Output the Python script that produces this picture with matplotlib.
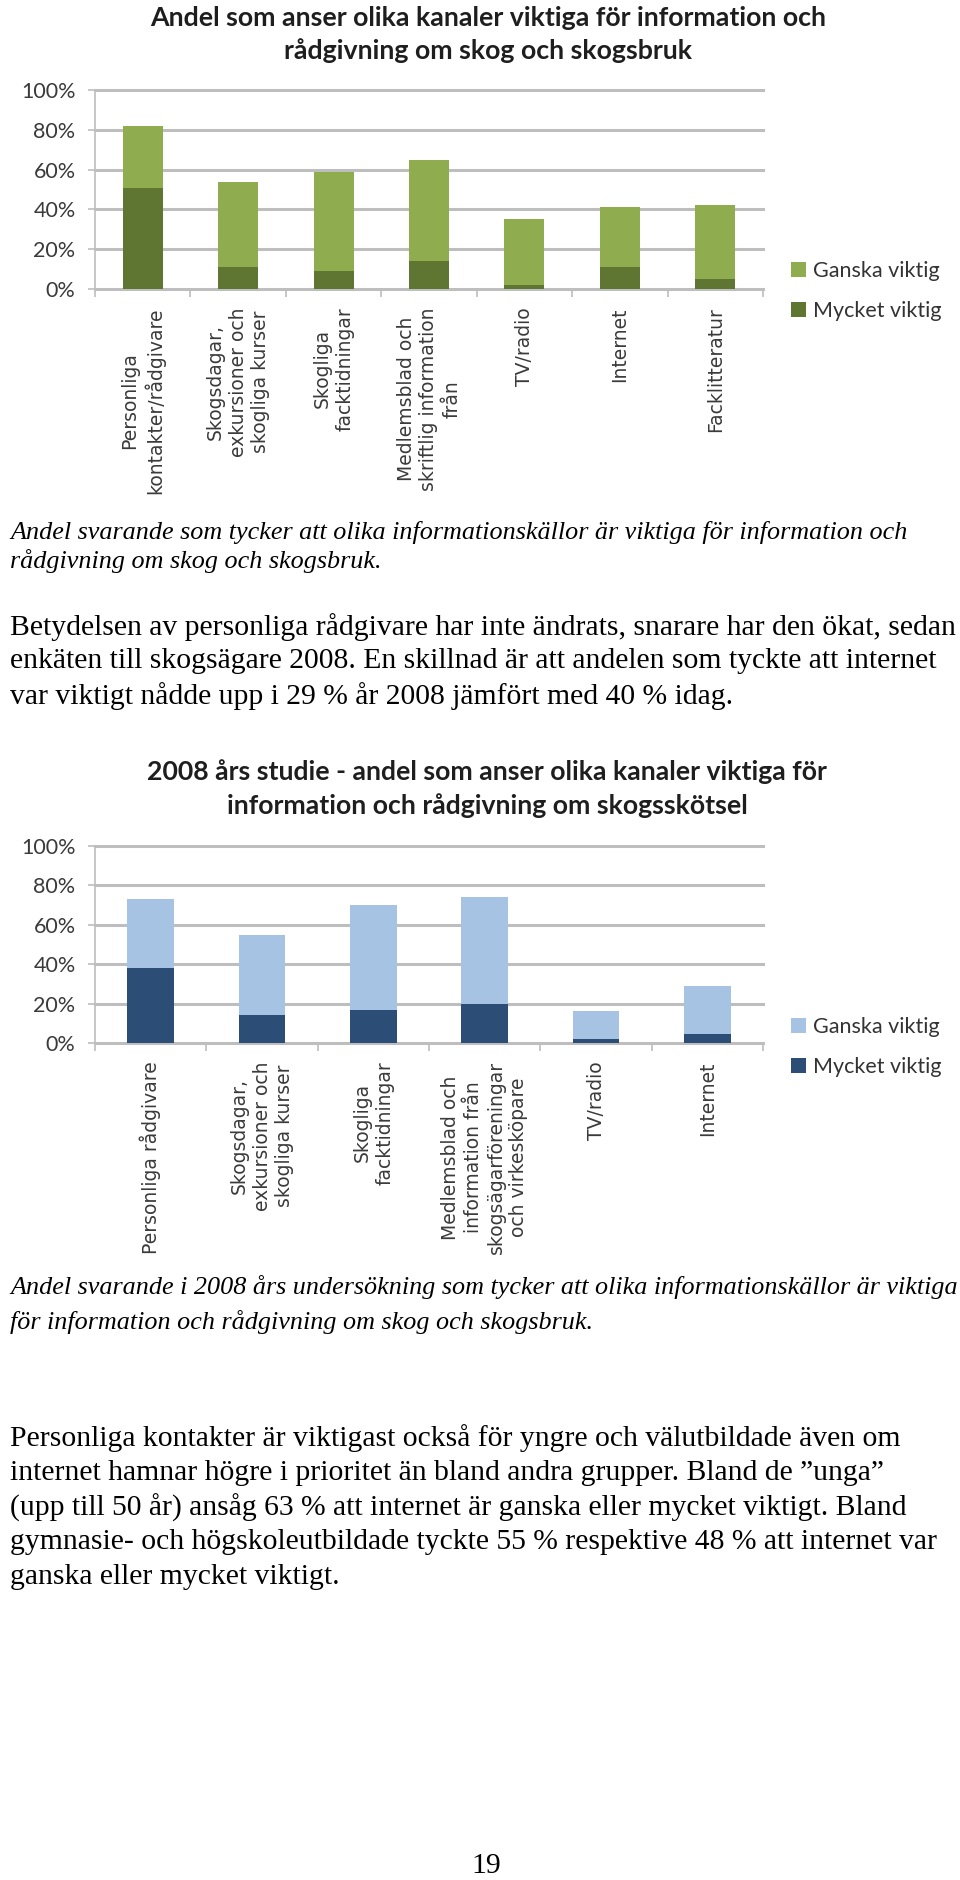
import matplotlib
matplotlib.use("Agg")
import matplotlib.pyplot as plt
import numpy as np

W, H = 960, 1880

# ---------------- data ----------------
series = ["Ganska viktig", "Mycket viktig"]
yticks = [0, 20, 40, 60, 80, 100]

cats_now = ["Personliga\nkontakter/rådgivare",
            "Skogsdagar,\nexkursioner och\nskogliga kurser",
            "Skogliga\nfacktidningar",
            "Medlemsblad och\nskriftlig information\nfrån",
            "TV/radio", "Internet", "Facklitteratur"]
mycket_now = [51, 11, 9, 14, 2, 11, 5]
ganska_now = [31, 43, 50, 51, 33, 30, 37]

cats_2008 = ["Personliga rådgivare",
             "Skogsdagar,\nexkursioner och\nskogliga kurser",
             "Skogliga\nfacktidningar",
             "Medlemsblad och\ninformation från\nskogsägarföreningar\noch virkesköpare",
             "TV/radio", "Internet"]
mycket_2008 = [38, 14, 17, 20, 2, 4.5]
ganska_2008 = [35, 41, 53, 54, 14, 24.5]

title_now = ["Andel som anser olika kanaler viktiga för information och",
             "rådgivning om skog och skogsbruk"]
title_2008 = ["2008 års studie - andel som anser olika kanaler viktiga för",
              "information och rådgivning om skogsskötsel"]

caption1 = ["Andel svarande som tycker att olika informationskällor är viktiga för information och",
            "rådgivning om skog och skogsbruk."]
para1 = ["Betydelsen av personliga rådgivare har inte ändrats, snarare har den ökat, sedan",
         "enkäten till skogsägare 2008. En skillnad är att andelen som tyckte att internet",
         "var viktigt nådde upp i 29 % år 2008 jämfört med 40 % idag."]
caption2 = ["Andel svarande i 2008 års undersökning som tycker att olika informationskällor är viktiga",
            "för information och rådgivning om skog och skogsbruk."]
para2 = ["Personliga kontakter är viktigast också för yngre och välutbildade även om",
         "internet hamnar högre i prioritet än bland andra grupper. Bland de ”unga”",
         "(upp till 50 år) ansåg 63 % att internet är ganska eller mycket viktigt. Bland",
         "gymnasie- och högskoleutbildade tyckte 55 % respektive 48 % att internet var",
         "ganska eller mycket viktigt."]
page_no = "19"

# ---------------- styling ----------------
GREEN_L, GREEN_D = "#8FAD4E", "#5E7631"
BLUE_L, BLUE_D = "#A7C3E3", "#2C4D75"
GRID = "#BEBEBE"
LABEL = "#3A3A3A"

fig = plt.figure(figsize=(W / 100, H / 100), dpi=100)
fig.patch.set_facecolor("white")
renderer = fig.canvas.get_renderer()


def fx(x):
    return x / W


def fy(y):
    return 1 - y / H


def fit_size(s, target, **kw):
    t = fig.text(0, 0, s, fontsize=10, **kw)
    w = t.get_window_extent(renderer).width
    t.remove()
    return 10 * target / w


def chart(rect, cats, mycket, ganska, c_dark, c_light, legend_y):
    l, t, r, b = rect
    ax = fig.add_axes([fx(l), fy(b), (r - l) / W, (b - t) / H])
    x = np.arange(len(cats))
    hd = ax.bar(x, mycket, width=0.42, color=c_dark, zorder=3)
    hl = ax.bar(x, ganska, bottom=mycket, width=0.42, color=c_light, zorder=3)
    ax.set_xlim(-0.5, len(cats) - 0.5)
    ax.set_ylim(0, 100)
    ax.set_yticks(yticks)
    ax.set_yticklabels([f"{v}%" for v in yticks], family="Lato")
    ax.yaxis.grid(True, color=GRID, lw=2.2)
    for gl in ax.get_ygridlines():
        gl.set_clip_on(False)
    ax.set_axisbelow(True)
    for s in ["top", "right"]:
        ax.spines[s].set_visible(False)
    for s in ["left", "bottom"]:
        ax.spines[s].set_color(GRID)
        ax.spines[s].set_linewidth(1.2)
    ax.set_xticks(x)
    ax.set_xticklabels(cats, rotation=90, ha="center", va="top",
                       multialignment="center", fontsize=13.5,
                       family="DejaVu Sans", color=LABEL, linespacing=1.25)
    ax.set_xticks(np.arange(len(cats) + 1) - 0.5, minor=True)
    ax.tick_params(axis="x", which="major", length=0, pad=13)
    ax.tick_params(axis="x", which="minor", length=6, color=GRID, width=1.2)
    ax.tick_params(axis="y", length=5, color=GRID, width=1.2, pad=9,
                   labelsize=15.5, labelcolor=LABEL)
    ax.legend([hl, hd], series, loc="center left",
              bbox_to_anchor=(fx(791), fy(legend_y)),
              bbox_transform=fig.transFigure, frameon=False,
              borderpad=0, borderaxespad=0, handlelength=0.7,
              handleheight=0.7, handletextpad=0.3, labelspacing=0.95,
              prop={"family": "Lato", "size": 15.5}, labelcolor="#333333")
    return ax


def title(lines, ys, cx, target):
    size = fit_size(lines[0], target, family="Lato", fontweight="bold")
    for s, y in zip(lines, ys):
        fig.text(fx(cx), fy(y), s, ha="center", va="center", fontsize=size,
                 family="Lato", fontweight="bold", color="#1E1E1E")


def block(lines, ys, size, style="normal"):
    for s, y in zip(lines, ys):
        fig.text(fx(10), fy(y), s, ha="left", va="center", fontsize=size,
                 family="Liberation Serif", style=style, color="black")


# ---------------- chart 1 ----------------
title(title_now, [18, 51], 488, 680)
chart((95, 90, 763, 289), cats_now, mycket_now, ganska_now,
      GREEN_D, GREEN_L, 291)

# ---------------- texts ----------------
cap_size = fit_size(caption1[0], 900, family="Liberation Serif", style="italic")
par_size = fit_size(para1[0], 948, family="Liberation Serif")
block(caption1, [533, 561], cap_size, "italic")
block(para1, [627, 661, 696], par_size)

# ---------------- chart 2 ----------------
title(title_2008, [772, 806], 487, 681)
chart((95, 846, 763, 1043), cats_2008, mycket_2008, ganska_2008,
      BLUE_D, BLUE_L, 1047)

block(caption2, [1287, 1322], cap_size, "italic")
block(para2, [1438, 1473, 1508, 1542, 1577], par_size)

fig.text(fx(486), fy(1866), page_no, ha="center", va="center",
         fontsize=par_size, family="Liberation Serif", color="black")

fig.savefig("out.png", dpi=100, facecolor="white")
